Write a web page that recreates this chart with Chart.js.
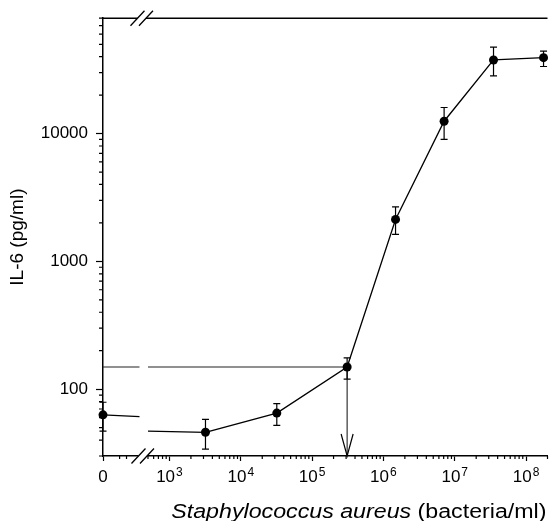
<!DOCTYPE html>
<html>
<head>
<meta charset="utf-8">
<script src="https://cdn.jsdelivr.net/npm/chart.js@4"></script>
<style>
  body { margin: 0; background: #fff; }
  #wrap { width: 552px; height: 521px; }
</style>
</head>
<body>
<div id="wrap"><canvas id="il6Chart"></canvas></div>
<script>
// S. aureus concentration (bacteria/ml) vs IL-6 (pg/ml)
const concentrations = [3.2e3, 3.2e4, 3.1e5, 1.48e6, 7.1e6, 3.5e7, 1.76e8];
const il6Mean  = [46, 65, 149, 2130, 12500, 37700, 39300];
const il6Upper = [58, 77, 176, 2670, 16000, 47500, 44200];
const il6Lower = [34, 52, 120, 1630, 9000, 28300, 33500];

// unstimulated control, plotted at "0" on the broken axis
const zeroMean = 63;
const zeroUpper = 79;
const zeroLower = 47;

// the control line stops at the break and picks up again after it
const zeroLineEnd = 61;
const breakLineStart = 47;

// threshold marked by the horizontal line and the arrow
const thresholdX = 3.1e5;
const thresholdY = 149;

// axes
const xZero = 117;           // where "0" sits on the log axis
const xBreak = [380, 500];   // gap in the axis
const xMax = 2e8;
const xTicks = [xZero, 1e3, 1e4, 1e5, 1e6, 1e7, 1e8];
const xTickBase = ["0", "10", "10", "10", "10", "10", "10"];
const xTickPower = ["", "3", "4", "5", "6", "7", "8"];
const yMin = 30;
const yMax = 80000;
const yTicks = [100, 1000, 10000];

const FONT = "'Liberation Sans', Arial, sans-serif";

// minor tick positions (2..9 in each decade)
const xMinor = [200, 250];
for (let d = 100; d <= 1e8; d *= 10) {
  for (let k = 2; k <= 9; k++) {
    const v = d * k;
    if (v >= 500 && v <= xMax) xMinor.push(v);
  }
}
const yMinor = [];
for (let d = 10; d <= 1e4; d *= 10) {
  for (let k = 2; k <= 9; k++) {
    const v = d * k;
    if (v >= yMin && v <= yMax) yMinor.push(v);
  }
}

const mainPoints = concentrations.map((c, i) => ({ x: c, y: il6Mean[i] }));

const extras = {
  id: "extras",
  afterDatasetsDraw(chart) {
    const { ctx } = chart;
    const xs = chart.scales.x, ys = chart.scales.y;
    ctx.save();
    ctx.strokeStyle = "#000";
    ctx.lineWidth = 1.2;

    // error bars
    const bars = concentrations.map((c, i) => [c, il6Lower[i], il6Upper[i]]);
    bars.push([xZero, zeroLower, zeroUpper]);
    bars.forEach(([x, lo, hi]) => {
      const px = xs.getPixelForValue(x);
      const top = ys.getPixelForValue(hi);
      const bot = ys.getPixelForValue(lo);
      ctx.beginPath();
      ctx.moveTo(px, top); ctx.lineTo(px, bot);
      ctx.moveTo(px - 3.5, top); ctx.lineTo(px + 3.5, top);
      ctx.moveTo(px - 3.5, bot); ctx.lineTo(px + 3.5, bot);
      ctx.stroke();
    });

    // open arrow head at the bottom of the threshold line
    const ax = xs.getPixelForValue(thresholdX);
    const ay = ys.getPixelForValue(yMin);
    ctx.beginPath();
    ctx.moveTo(ax - 6, ay - 22);
    ctx.lineTo(ax, ay);
    ctx.lineTo(ax + 6, ay - 22);
    ctx.stroke();
    ctx.restore();
  },
  afterDraw(chart) {
    const { ctx, chartArea } = chart;
    const xs = chart.scales.x, ys = chart.scales.y;
    const b0 = xs.getPixelForValue(xBreak[0]);
    const b1 = xs.getPixelForValue(xBreak[1]);
    ctx.save();
    ctx.strokeStyle = "#000";

    // top frame line
    ctx.lineWidth = 1.5;
    ctx.beginPath();
    ctx.moveTo(chartArea.left, chartArea.top);
    ctx.lineTo(chartArea.right, chartArea.top);
    ctx.stroke();

    // minor ticks
    ctx.lineWidth = 1.2;
    ctx.beginPath();
    xMinor.forEach(v => {
      const px = xs.getPixelForValue(v);
      ctx.moveTo(px, chartArea.bottom);
      ctx.lineTo(px, chartArea.bottom + 3);
    });
    yMinor.forEach(v => {
      const py = ys.getPixelForValue(v);
      ctx.moveTo(chartArea.left, py);
      ctx.lineTo(chartArea.left - 4, py);
    });
    ctx.stroke();

    // axis break marks
    const slashes = (y, c0, c1) => {
      ctx.fillStyle = "#fff";
      ctx.fillRect(c0, y - 2, c1 - c0, 4);
      ctx.beginPath();
      [c0, c1].forEach(c => {
        ctx.moveTo(c - 7, y + 7.5);
        ctx.lineTo(c + 7, y - 7.5);
      });
      ctx.stroke();
    };
    ctx.lineWidth = 1.3;
    slashes(chartArea.bottom, b0 - 1, b1 - 1);
    slashes(chartArea.top, b0 - 2, b1 - 2);

    // x tick labels: 10 with raised exponent
    ctx.fillStyle = "#000";
    ctx.textBaseline = "alphabetic";
    ctx.textAlign = "left";
    xTicks.forEach((v, i) => {
      const px = xs.getPixelForValue(v);
      ctx.font = "17px " + FONT;
      const wBase = ctx.measureText(xTickBase[i]).width;
      ctx.font = "12px " + FONT;
      const wPow = xTickPower[i] ? ctx.measureText(xTickPower[i]).width + 1 : 0;
      const left = px - (wBase + wPow) / 2;
      ctx.font = "17px " + FONT;
      ctx.fillText(xTickBase[i], left, 482);
      if (xTickPower[i]) {
        ctx.font = "12px " + FONT;
        ctx.fillText(xTickPower[i], left + wBase + 1, 476);
      }
    });

    // x axis title, italic species name, set a little wide like the original
    const a = "Staphylococcus aureus";
    const b = " (bacteria/ml)";
    const stretch = 1.16;
    ctx.font = "italic 20px " + FONT;
    const wa = ctx.measureText(a).width;
    ctx.font = "20px " + FONT;
    const wb = ctx.measureText(b).width;
    const x0 = chartArea.right - 1 - (wa + wb) * stretch;
    ctx.translate(x0, 518);
    ctx.scale(stretch, 1);
    ctx.font = "italic 20px " + FONT;
    ctx.fillText(a, 0, 0);
    ctx.font = "20px " + FONT;
    ctx.fillText(b, wa, 0);
    ctx.restore();
  }
};

const lineStyle = {
  borderColor: "#000",
  borderWidth: 1.3,
  pointRadius: 0,
  tension: 0,
  clip: false
};

new Chart(document.getElementById("il6Chart"), {
  type: "line",
  data: {
    datasets: [
      {
        label: "IL-6",
        data: mainPoints,
        borderColor: "#000",
        borderWidth: 1.3,
        backgroundColor: "#000",
        pointRadius: 4.5,
        pointBorderWidth: 0,
        tension: 0,
        clip: false
      },
      {
        label: "control",
        data: [{ x: xZero, y: zeroMean }],
        backgroundColor: "#000",
        pointRadius: 4.5,
        pointBorderWidth: 0,
        showLine: false,
        clip: false
      },
      {
        label: "control line",
        data: [
          { x: xZero, y: zeroMean }, { x: xBreak[0], y: zeroLineEnd },
          { x: 440, y: null },
          { x: xBreak[1], y: breakLineStart }, { x: concentrations[0], y: il6Mean[0] }
        ],
        spanGaps: false,
        ...lineStyle
      },
      {
        label: "threshold",
        data: [
          { x: xZero, y: thresholdY }, { x: xBreak[0], y: thresholdY },
          { x: 440, y: null },
          { x: xBreak[1], y: thresholdY }, { x: thresholdX, y: thresholdY }
        ],
        spanGaps: false,
        ...lineStyle,
        borderWidth: 1.1,
        borderColor: "#222"
      },
      {
        label: "arrow",
        data: [{ x: thresholdX, y: thresholdY }, { x: thresholdX, y: yMin }],
        ...lineStyle,
        borderWidth: 1.1,
        borderColor: "#222"
      }
    ]
  },
  options: {
    responsive: true,
    maintainAspectRatio: false,
    animation: false,
    layout: { padding: { top: 15, right: 0, left: 0, bottom: 0 } },
    plugins: {
      legend: { display: false },
      tooltip: { enabled: false }
    },
    scales: {
      x: {
        type: "logarithmic",
        min: xZero,
        max: xMax,
        afterFit: (scale) => { scale.height = 65; },
        afterBuildTicks: (scale) => { scale.ticks = xTicks.map(v => ({ value: v })); },
        border: { color: "#000", width: 1.5 },
        grid: { drawOnChartArea: false, drawTicks: true, tickLength: 5, tickColor: "#000", tickWidth: 1.2 },
        ticks: { display: false, autoSkip: false, maxRotation: 0 }
      },
      y: {
        type: "logarithmic",
        min: yMin,
        max: yMax,
        afterFit: (scale) => { scale.width = 103; },
        afterBuildTicks: (scale) => { scale.ticks = yTicks.map(v => ({ value: v })); },
        border: { color: "#000", width: 1.5 },
        grid: { drawOnChartArea: false, drawTicks: true, tickLength: 7, tickColor: "#000", tickWidth: 1.2 },
        ticks: {
          padding: 8,
          color: "#000",
          font: { family: FONT, size: 17 },
          callback: (value) => String(value)
        },
        title: {
          display: true,
          text: "IL-6 (pg/ml)",
          color: "#000",
          font: { family: FONT, size: 19 },
          padding: { top: 6, bottom: 0 }
        }
      }
    }
  },
  plugins: [extras]
});
</script>
</body>
</html>
